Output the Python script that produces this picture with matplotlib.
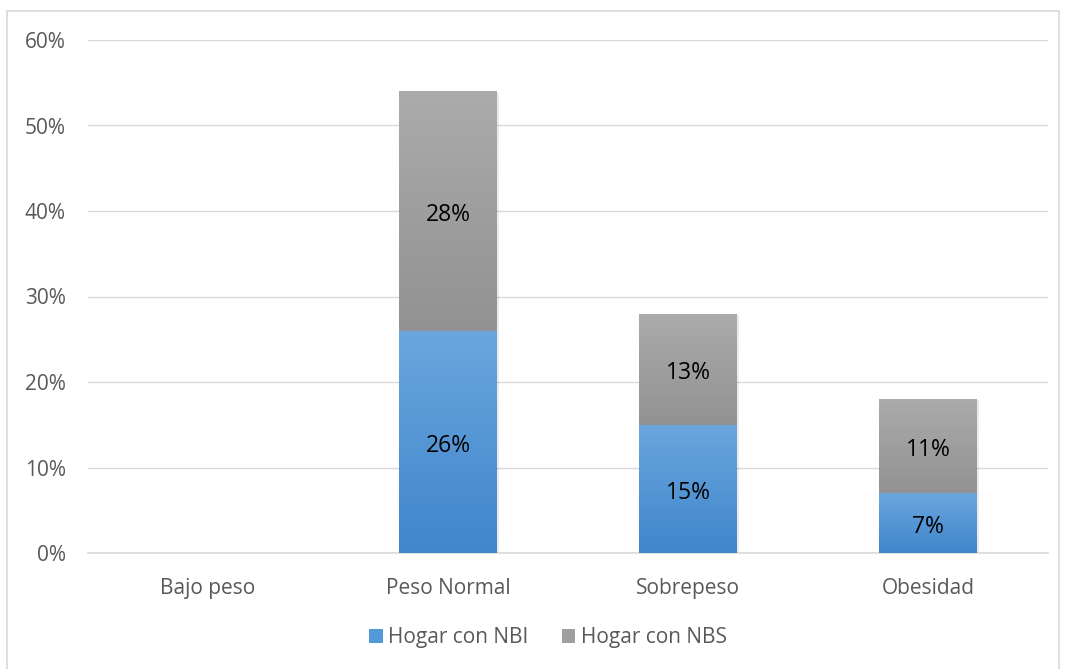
import numpy as np
import matplotlib
matplotlib.use("Agg")
import matplotlib.pyplot as plt
from matplotlib.patches import Rectangle
from matplotlib.colors import LinearSegmentedColormap

categories = ["Bajo peso", "Peso Normal", "Sobrepeso", "Obesidad"]
nbi = [0, 26, 15, 7]
nbs = [0, 28, 13, 11]
series_names = ["Hogar con NBI", "Hogar con NBS"]
yticks = [0, 10, 20, 30, 40, 50, 60]

plt.rcParams['font.family'] = ['Open Sans', 'DejaVu Sans']

W, H = 1066, 669
fig = plt.figure(figsize=(W / 100, H / 100), dpi=100)
fig.patches.append(Rectangle((7 / W, -0.01), (1059 - 7) / W, 1 - 11 / H + 0.01,
                             transform=fig.transFigure, fill=False,
                             edgecolor="#d9d9d9", linewidth=1.2))

ax = fig.add_axes([88 / W, (H - 553) / H, 960 / W, 513 / H])
x = np.arange(len(categories))
width = 0.405

blue_cmap = LinearSegmentedColormap.from_list("b", ["#3f86cb", "#6ba6de"])
gray_cmap = LinearSegmentedColormap.from_list("g", ["#929292", "#ababab"])

b1 = ax.bar(x, nbi, width, color="#559ad8", label=series_names[0], zorder=3)
b2 = ax.bar(x, nbs, width, bottom=nbi, color="#9f9f9f", label=series_names[1], zorder=3)

grad = np.linspace(0, 1, 256).reshape(-1, 1)
for bars, cmap in ((b1, blue_cmap), (b2, gray_cmap)):
    for p in bars:
        if p.get_height() <= 0:
            continue
        x0, y0 = p.get_x(), p.get_y()
        w, h = p.get_width(), p.get_height()
        ax.add_patch(Rectangle((x0 + 0.008, y0 - 0.15), w, h, color="#000000",
                               alpha=0.08, zorder=2, linewidth=0))
        im = ax.imshow(grad, cmap=cmap, origin="lower", aspect="auto",
                       extent=(x0, x0 + w, y0, y0 + h), zorder=4)
        im.set_clip_path(p)

lab_shift = -0.45
for i in range(len(categories)):
    if nbi[i] > 0:
        ax.text(x[i], nbi[i] / 2 + lab_shift, f"{nbi[i]}%", ha="center", va="center",
                fontsize=16.5, color="black", zorder=5)
    if nbs[i] > 0:
        ax.text(x[i], nbi[i] + nbs[i] / 2 + lab_shift, f"{nbs[i]}%", ha="center",
                va="center", fontsize=16.5, color="black", zorder=5)

ax.set_xlim(-0.5, 3.5)
ax.set_ylim(0, 60)
ax.set_yticks(yticks)
ax.set_yticklabels([f"{t}%" for t in yticks])
ax.set_xticks(x)
ax.set_xticklabels(categories)
ax.tick_params(axis="both", length=0, labelsize=15, colors="#595959")
ax.tick_params(axis="y", pad=16)
ax.tick_params(axis="x", pad=18)
ax.grid(axis="y", color="#d9d9d9", linewidth=1, zorder=0)
ax.set_axisbelow(True)
for s in ["top", "right", "left"]:
    ax.spines[s].set_visible(False)
ax.spines["bottom"].set_color("#d9d9d9")
ax.spines["bottom"].set_linewidth(1.2)

leg = fig.legend(handles=[b1, b2], labels=series_names, loc="center",
                 bbox_to_anchor=(548 / W, 1 - 638 / H), ncol=2, frameon=False,
                 fontsize=15, handlelength=0.65, handleheight=0.65,
                 handletextpad=0.25, columnspacing=1.6)
for t in leg.get_texts():
    t.set_color("#595959")

fig.savefig("out.png", dpi=100)
